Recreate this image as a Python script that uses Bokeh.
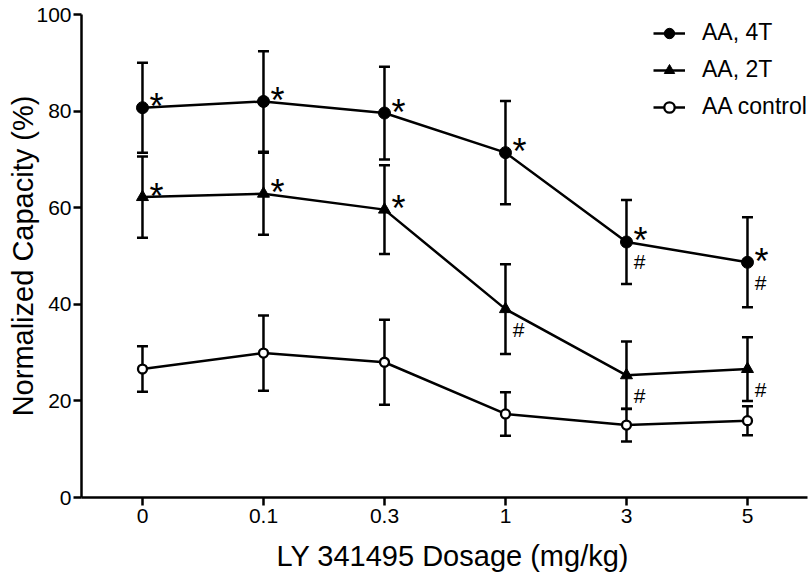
import numpy as np
from bokeh.plotting import figure
from bokeh.models import (Range1d, FixedTicker, Whisker, TeeHead, ColumnDataSource,
                          Legend, LegendItem, Title)
from bokeh.core.properties import value
from bokeh.embed import file_html
from bokeh.resources import INLINE

# ---------------- data ----------------
doses = ["0", "0.1", "0.3", "1", "3", "5"]

aa4t_mean = [80.7, 82.0, 79.6, 71.4, 52.9, 48.7]
aa4t_sem = [9.3, 10.4, 9.6, 10.7, 8.7, 9.3]
aa4t_star = [1, 1, 1, 1, 1, 1]
aa4t_hash = [0, 0, 0, 0, 1, 1]

aa2t_mean = [62.2, 62.9, 59.6, 39.0, 25.3, 26.6]
aa2t_sem = [8.4, 8.5, 9.2, 9.3, 7.0, 6.6]
aa2t_star = [1, 1, 1, 0, 0, 0]
aa2t_hash = [0, 0, 0, 1, 1, 1]

ctrl_mean = [26.6, 29.9, 28.0, 17.3, 15.0, 15.9]
ctrl_sem = [4.7, 7.8, 8.8, 4.5, 3.4, 3.0]

y_ticks = [0, 20, 40, 60, 80, 100]

series_names = ["AA, 4T", "AA, 2T", "AA control"]
x_title = "LY 341495 Dosage (mg/kg)"
y_title = "Normalized Capacity (%)"

# ---------------- figure ----------------
FONT = "Liberation Sans"
x = list(range(len(doses)))

p = figure(width=809, height=575, output_backend="svg", toolbar_location=None,
           x_range=Range1d(-0.504, 5.496), y_range=Range1d(0, 100),
           min_border_left=81, min_border_right=2, min_border_top=14,
           min_border_bottom=78)
p.outline_line_color = None
p.grid.visible = False
p.background_fill_color = "white"

for ax in (p.xaxis[0], p.yaxis[0]):
    ax.axis_line_width = 2.5
    ax.axis_line_color = "black"
    ax.major_tick_line_width = 2.5
    ax.major_tick_line_color = "black"
    ax.major_tick_out = 8
    ax.major_tick_in = 0
    ax.minor_tick_line_color = None
    ax.major_label_text_font = FONT
    ax.major_label_text_font_size = "21px"
    ax.major_label_text_color = "black"

p.xaxis.ticker = FixedTicker(ticks=x)
p.xaxis.major_label_overrides = {i: d for i, d in enumerate(doses)}
p.xaxis.major_label_standoff = 3
p.yaxis.ticker = FixedTicker(ticks=y_ticks)
p.yaxis.major_label_standoff = 2
p.yaxis.axis_label = y_title
p.yaxis.axis_label_standoff = -6
p.yaxis.axis_label_text_font = FONT
p.yaxis.axis_label_text_font_size = "29px"
p.yaxis.axis_label_text_font_style = "normal"
p.yaxis.axis_label_text_color = "black"

p.add_layout(Title(text=x_title, align="left", offset=195, standoff=0,
                   padding=(0, 0, 12, 0),
                   text_font=FONT, text_font_size="29px",
                   text_font_style="normal", text_color="black"), "below")

LW = 2.5


def add_errors(mean, sem):
    m = np.array(mean)
    s = np.array(sem)
    src = ColumnDataSource(dict(x=x, upper=m + s, lower=m - s))
    w = Whisker(source=src, base="x", upper="upper", lower="lower",
                line_width=LW, line_color="black",
                upper_head=TeeHead(size=11, line_width=LW, line_color="black"),
                lower_head=TeeHead(size=11, line_width=LW, line_color="black"))
    p.add_layout(w)


add_errors(aa4t_mean, aa4t_sem)
add_errors(aa2t_mean, aa2t_sem)
add_errors(ctrl_mean, ctrl_sem)

l1 = p.line(x, aa4t_mean, line_width=LW, line_color="black")
s1 = p.scatter(x, aa4t_mean, marker="circle", size=12, fill_color="black",
               line_color="black", line_width=1)
l2 = p.line(x, aa2t_mean, line_width=LW, line_color="black")
s2 = p.scatter(x, aa2t_mean, marker="triangle", size=12, fill_color="black",
               line_color="black", line_width=1)
l3 = p.line(x, ctrl_mean, line_width=LW, line_color="black")
s3 = p.scatter(x, ctrl_mean, marker="circle", size=9, fill_color="white",
               line_color="black", line_width=2.3)


# significance marks
def marks(flags, mean, sym, size, xo, yo):
    xs = [xi for xi, f in zip(x, flags) if f]
    ys = [m for m, f in zip(mean, flags) if f]
    p.text(x=xs, y=ys, text=[sym] * len(xs), text_font=value(FONT),
           text_font_size=size, text_align="center", text_baseline="middle",
           x_offset=xo, y_offset=yo, text_color="black")


marks(aa4t_star, aa4t_mean, "*", "36px", 14, -1)
marks(aa2t_star, aa2t_mean, "*", "36px", 14, -1)
marks(aa4t_hash, aa4t_mean, "#", "21px", 13, 20)
marks(aa2t_hash, aa2t_mean, "#", "21px", 13, 20)

# legend
items = [LegendItem(label=series_names[0], renderers=[l1, s1]),
         LegendItem(label=series_names[1], renderers=[l2, s2]),
         LegendItem(label=series_names[2], renderers=[l3, s3])]
leg = Legend(items=items, location=(572, 377), glyph_width=32, glyph_height=26,
             label_height=26, spacing=10, label_standoff=17, padding=0, margin=0,
             border_line_color=None, background_fill_alpha=0,
             label_text_font=FONT, label_text_font_size="23px",
             label_text_color="black")
p.add_layout(leg)

open("out.html", "w").write(file_html(p, INLINE))
